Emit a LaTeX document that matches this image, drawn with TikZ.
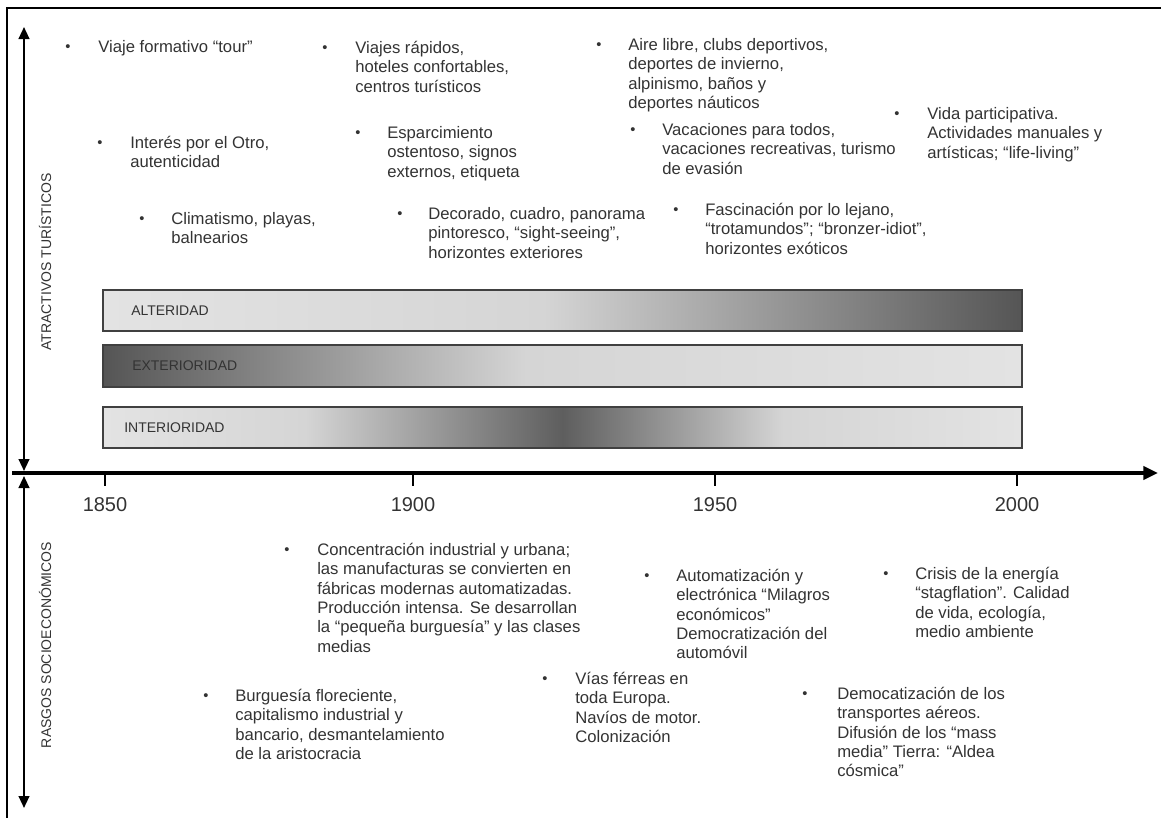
\documentclass[tikz,border=0pt]{standalone}
\usepackage{fontspec}
\setmainfont{Liberation Sans}
\usetikzlibrary{arrows.meta}

\definecolor{txtgray}{HTML}{333333}
\definecolor{barline}{HTML}{404040}
\definecolor{barlight}{HTML}{E3E3E3}
\definecolor{barmid}{HTML}{D5D5D5}
\definecolor{bardark}{HTML}{555555}
\definecolor{bardeep}{HTML}{5E5E5E}

\pgfdeclarehorizontalshading{alterfade}{100bp}{color(0bp)=(barlight); color(25bp)=(barlight); color(49bp)=(barmid); color(75bp)=(bardark); color(100bp)=(bardark)}
\pgfdeclarehorizontalshading{exterfade}{100bp}{color(0bp)=(bardark); color(25bp)=(bardark); color(48bp)=(barmid); color(75bp)=(barlight); color(100bp)=(barlight)}
\pgfdeclarehorizontalshading{interfade}{100bp}{color(0bp)=(barlight); color(25bp)=(barlight); color(36bp)=(barmid); color(50bp)=(bardeep); color(62bp)=(barmid); color(75bp)=(barlight); color(100bp)=(barlight)}

\newcommand\txtfont{\fontsize{12.5}{14.5}\selectfont}
\newcommand\bulfont{\fontsize{11}{12}\selectfont}
\newcommand\yrfont{\fontsize{15}{18}\selectfont}
\newcommand\lblfont{\fontsize{10.5}{12}\selectfont}

\tikzset{
	txt/.style={font=\txtfont, text=txtgray, align=left, anchor=north west, inner sep=0pt},
	bul/.style={font=\bulfont, text=txtgray, inner sep=0pt, yshift=-1.5pt},
	yr/.style={font=\yrfont, text=txtgray},
	lbl/.style={font=\lblfont, text=txtgray, inner sep=0pt},
	bar/.style={draw=barline, line width=1pt},
	tick/.style={line width=1.5pt},
}

\begin{document}
\begin{tikzpicture}[x=0.75pt, y=-0.75pt]
	\useasboundingbox (0,0) rectangle (1161,818);

	% frame
	\draw[line width=1.5pt] (7,818) -- (7,8) -- (1161,8);

	% axes
	\coordinate (xstart) at (12,473);
	\coordinate (xend) at (1158,473);
	\coordinate (ytop) at (24,27);
	\coordinate (ymidup) at (24,471);
	\coordinate (ymiddown) at (24,476);
	\coordinate (ybot) at (24,808);
	\draw[line width=2.5pt, -{Triangle[length=11pt,width=10pt]}] (xstart) -- (xend);
	\draw[line width=1.6pt, {Triangle[length=9pt,width=8pt]}-{Triangle[length=9pt,width=8pt]}] (ytop) -- (ymidup);
	\draw[line width=1.6pt, {Triangle[length=9pt,width=8pt]}-{Triangle[length=9pt,width=8pt]}] (ymiddown) -- (ybot);
	\node[lbl, rotate=90] (atrac) at (45,262) {ATRACTIVOS TURÍSTICOS};
	\node[lbl, rotate=90] (rasgos) at (45,645) {RASGOS SOCIOECONÓMICOS};

	% years
	\foreach \xx/\yy in {105/1850, 413/1900, 715/1950, 1017/2000} {
		\draw[tick] (\xx,473) -- (\xx,486);
		\node[yr] (y\yy) at (\xx,505) {\yy};
	}

	% bars
	\shadedraw[bar, shading=alterfade] (103,290) rectangle (1022,331);
	\shadedraw[bar, shading=exterfade] (103,345) rectangle (1022,387);
	\shadedraw[bar, shading=interfade] (103,407) rectangle (1022,448);
	\node[lbl, anchor=west] (alter) at (131,311) {ALTERIDAD};
	\node[lbl, anchor=west] (exter) at (132,366) {EXTERIORIDAD};
	\node[lbl, anchor=west] (inter) at (124,428) {INTERIORIDAD};

	% atractivos
	\node[bul] (btour) at (68,46) {\textbullet};
	\node[txt] (tour) at (98,40) {Viaje formativo “tour”};
	\node[bul] (botro) at (100,142) {\textbullet};
	\node[txt] (otro) at (130,136) {Interés por el Otro,\\autenticidad};
	\node[bul] (bclima) at (142,218) {\textbullet};
	\node[txt] (clima) at (171,212) {Climatismo, playas,\\balnearios};
	\node[bul] (brapido) at (325,47) {\textbullet};
	\node[txt] (rapido) at (355,41) {Viajes rápidos,\\hoteles confortables,\\centros turísticos};
	\node[bul] (bocio) at (358,132) {\textbullet};
	\node[txt] (ocio) at (387,126) {Esparcimiento\\ostentoso, signos\\externos, etiqueta};
	\node[bul] (bdecor) at (400,213) {\textbullet};
	\node[txt] (decor) at (428,207) {Decorado, cuadro, panorama\\pintoresco, “sight-seeing”,\\horizontes exteriores};
	\node[bul] (baire) at (599,44) {\textbullet};
	\node[txt] (aire) at (628,38) {Aire libre, clubs deportivos,\\deportes de invierno,\\alpinismo, baños y\\deportes náuticos};
	\node[bul] (bvacac) at (633,129) {\textbullet};
	\node[txt] (vacac) at (662,123) {Vacaciones para todos,\\vacaciones recreativas, turismo\\de evasión};
	\node[bul] (blejano) at (676,209) {\textbullet};
	\node[txt] (lejano) at (705,203) {Fascinación por lo lejano,\\“trotamundos”; “bronzer-idiot”,\\horizontes exóticos};
	\node[bul] (bvida) at (897,113) {\textbullet};
	\node[txt] (vida) at (927,107) {Vida participativa.\\Actividades manuales y\\artísticas; “life-living”};

	% rasgos
	\node[bul] (bconcen) at (287,549) {\textbullet};
	\node[txt] (concen) at (317,543) {Concentración industrial y urbana;\\las manufacturas se convierten en\\fábricas modernas automatizadas.\\Producción intensa. Se desarrollan\\la “pequeña burguesía” y las clases\\medias};
	\node[bul] (bburgue) at (206,695) {\textbullet};
	\node[txt] (burgue) at (235,689) {Burguesía floreciente,\\capitalismo industrial y\\bancario, desmantelamiento\\de la aristocracia};
	\node[bul] (bauto) at (647,575) {\textbullet};
	\node[txt] (auto) at (676,569) {Automatización y\\electrónica “Milagros\\económicos”\\Democratización del\\automóvil};
	\node[bul] (bvias) at (545,678) {\textbullet};
	\node[txt] (vias) at (575,672) {Vías férreas en\\toda Europa.\\Navíos de motor.\\Colonización};
	\node[bul] (bcrisis) at (886,573) {\textbullet};
	\node[txt] (crisis) at (915,567) {Crisis de la energía\\“stagflation”. Calidad\\de vida, ecología,\\medio ambiente};
	\node[bul] (baereo) at (805,693) {\textbullet};
	\node[txt] (aereo) at (837,687) {Democatización de los\\transportes aéreos.\\Difusión de los “mass\\media” Tierra: “Aldea\\cósmica”};
\end{tikzpicture}
\end{document}
